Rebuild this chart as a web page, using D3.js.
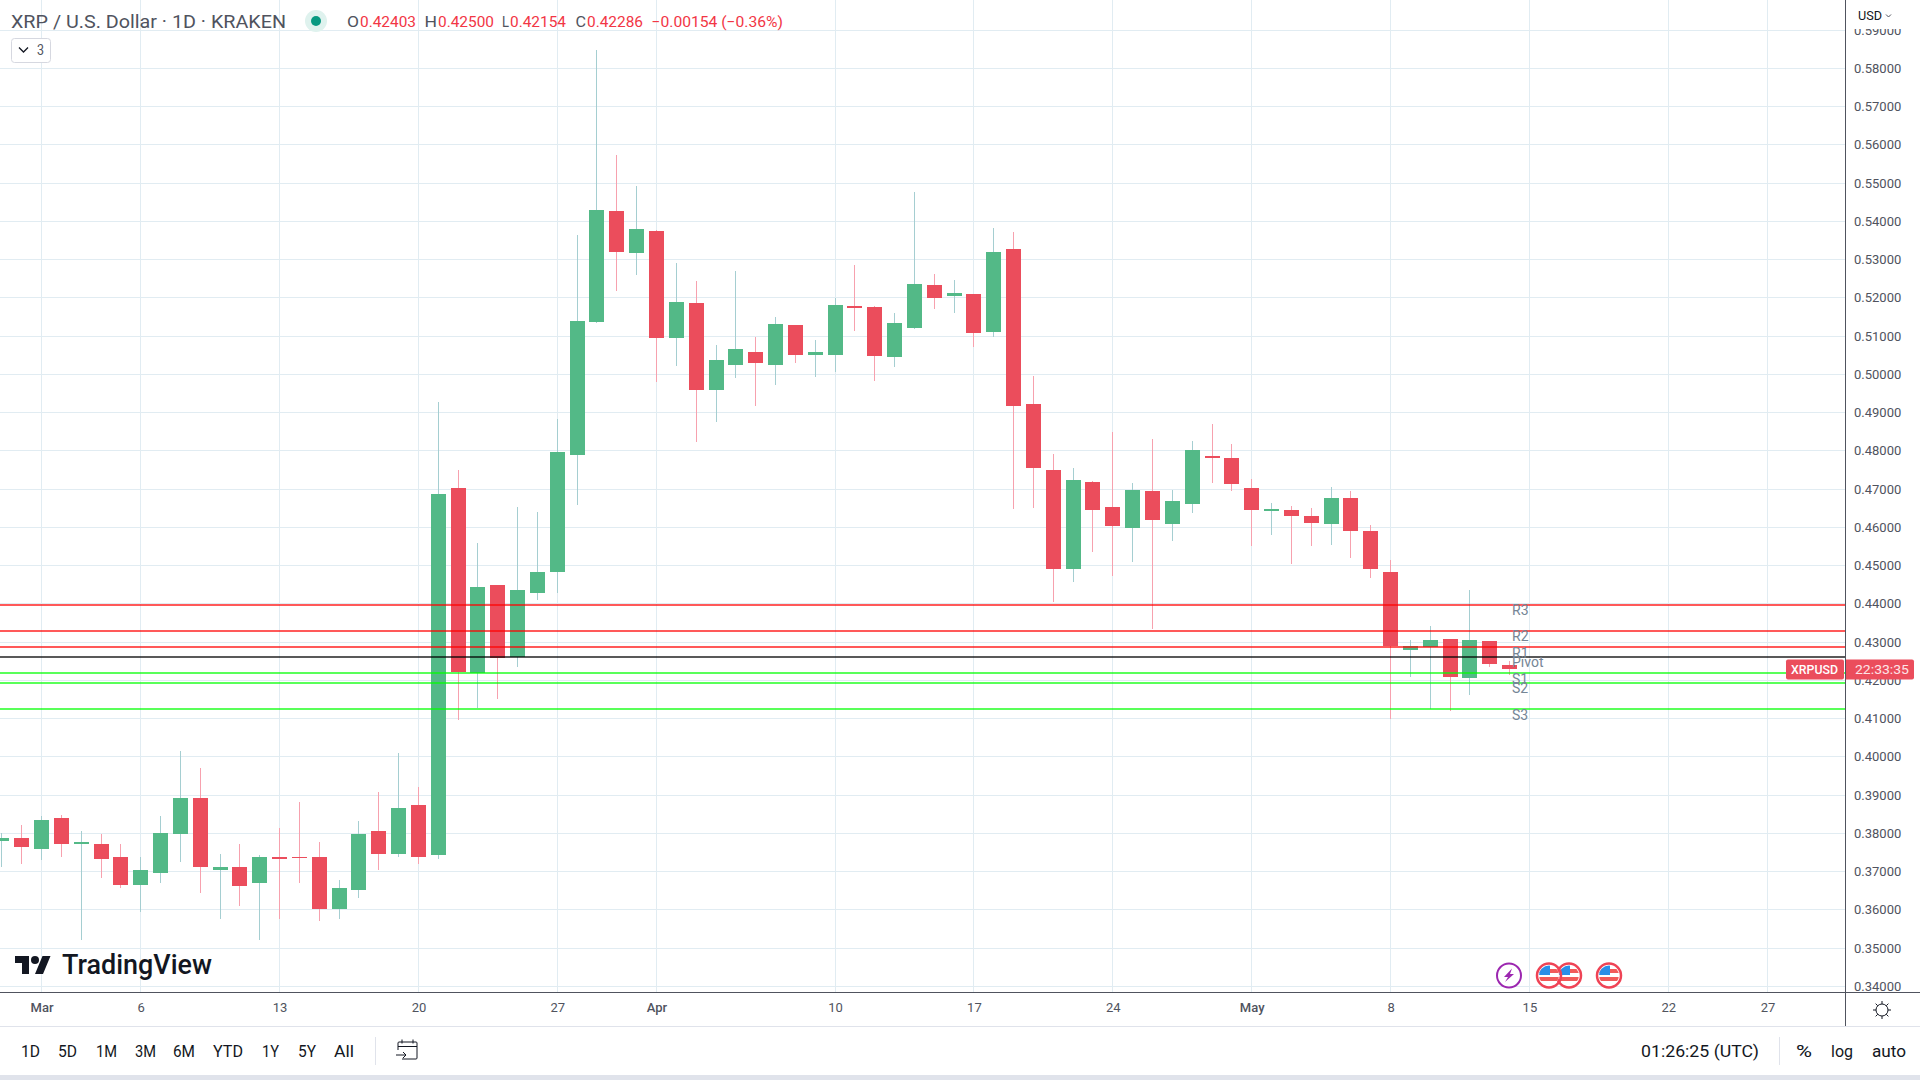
<!DOCTYPE html>
<html>
<head>
<meta charset="utf-8">
<title>XRP / U.S. Dollar</title>
<script src="https://cdn.jsdelivr.net/npm/d3@7/dist/d3.min.js"></script>
<style>
  html, body { margin: 0; padding: 0; background: #fff; overflow: hidden; }
  svg { display: block; font-family: Roboto, sans-serif; }
</style>
</head>
<body>
<div id="chart"></div>
<script>
// daily candles, 27 Feb to 14 May
var opens = [
  .3779,.3789,
  .3760,.3839,.3771,.3773,.3737,.3666,.3695,.3799,.3891,.3705,.3711,.3669,.3739,.3739,.3739,.3601,.3653,.3805,.3745,.3873,
  .3742,.4704,.4219,.4448,.4262,.4429,.4482,.4789,.5137,.5427,.5317,
  .5375,.5095,.5186,.4959,.5024,.5058,.5024,.5129,.5050,.5050,.5178,.5176,.5046,.5122,.5234,.5205,.5211,.5111,.5328,.4923,
  .4749,.4490,.4718,.4652,.4597,.4694,.4608,.4660,.4786,.4781,
  .4702,.4642,.4645,.4629,.4608,.4676,.4590,.4482,.4280,.4287,.4309,.4207,.4303,.4240
];
var highs = [
  .3801,.3823,
  .3844,.3847,.3807,.3799,.3771,.3737,.3844,.4014,.3972,.3747,.3773,.3742,.3815,.3881,.3776,.3679,.3831,.3907,.4011,.3922,
  .4927,.4751,.4558,.4448,.4652,.4639,.4883,.5364,.5848,.5573,.5492,
  .5377,.5291,.5243,.5076,.5270,.5097,.5150,.5129,.5089,.5199,.5286,.5179,.5161,.5477,.5263,.5247,.5211,.5383,.5373,.4996,
  .4791,.4754,.4720,.4849,.4715,.4830,.4697,.4825,.4869,.4817,
  .4726,.4663,.4655,.4650,.4705,.4694,.4605,.4514,.4306,.4343,.4309,.4437,.4303,.4250
];
var lows = [
  .3711,.3721,
  .3731,.3739,.3522,.3684,.3658,.3595,.3671,.3726,.3645,.3575,.3611,.3520,.3575,.3669,.3572,.3577,.3632,.3705,.3739,.3721,
  .3734,.4097,.4128,.4150,.4236,.4411,.4429,.4658,.5135,.5218,.5259,
  .4980,.5021,.4823,.4875,.4990,.4917,.4972,.5029,.4993,.5006,.5113,.4983,.5020,.5119,.5171,.5161,.5072,.5098,.4647,.4650,
  .4404,.4456,.4535,.4472,.4509,.4333,.4563,.4637,.4715,.4694,
  .4550,.4579,.4503,.4550,.4555,.4519,.4467,.4099,.4209,.4126,.4120,.4162,.4235,.4215
];
var closes = [
  .3789,.3765,
  .3836,.3771,.3776,.3734,.3666,.3703,.3802,.3891,.3711,.3713,.3663,.3739,.3734,.3737,.3603,.3658,.3797,.3745,.3867,.3739,
  .4686,.4222,.4445,.4257,.4437,.4484,.4796,.5139,.5429,.5320,.5380,
  .5095,.5189,.4959,.5037,.5066,.5029,.5131,.5050,.5058,.5181,.5173,.5048,.5135,.5237,.5200,.5213,.5109,.5320,.4918,.4754,
  .4490,.4723,.4645,.4603,.4697,.4618,.4668,.4801,.4781,.4713,
  .4645,.4647,.4629,.4611,.4676,.4590,.4490,.4289,.4290,.4306,.4209,.4306,.4243,.4229
];
var startDay = "2023-02-27";

var pivotNames = ["R3", "R2", "R1", "Pivot", "S1", "S2", "S3"];
var pivotValues = [.4398, .4330, .4288, .4262, .4220, .4194, .4126];
var pivotKinds = ["res", "res", "res", "pivot", "sup", "sup", "sup"];

var priceTicks = d3.range(34, 60).map(function(d) { return d / 100; });
var dayTicks = ["2023-03-01","2023-03-06","2023-03-13","2023-03-20","2023-03-27","2023-04-01","2023-04-10","2023-04-17","2023-04-24","2023-05-01","2023-05-08","2023-05-15","2023-05-22","2023-05-27"];
var dayTickLabels = ["Mar","6","13","20","27","Apr","10","17","24","May","8","15","22","27"];

var rangeLabels = ["1D","5D","1M","3M","6M","YTD","1Y","5Y","All"];
var rangeStart = [21,58,96,135,173,213,262,298,334];
var rangeEnd = [40,77,117,156,195,243,279,316,354];

var UP = "#53b987", DOWN = "#eb4d5c", UPWICK = "#a5ced1", DOWNWICK = "#f7a1ae";
var GRID = "#e1ecf2", AXIS = "#50535e", TEXT = "#50535e", DARK = "#131722";
var axisX = 1845, axisY = 992;

var parse = d3.utcParse("%Y-%m-%d");
var first = parse(startDay);
var candles = opens.map(function(o, i) {
  return { date: d3.utcDay.offset(first, i), o: o, h: highs[i], l: lows[i], c: closes[i] };
});

var x = d3.scaleUtc().domain([parse("2023-03-01"), parse("2023-05-27")]).range([41.5, 1767.5]);
var y = d3.scaleLinear().domain([0.34, 0.58]).range([986.3, 68.3]);

var svg = d3.select("#chart").append("svg").attr("width", 1920).attr("height", 1080);
svg.append("rect").attr("width", 1920).attr("height", 1080).attr("fill", "#fff");
svg.append("clipPath").attr("id", "plot").append("rect")
  .attr("width", axisX).attr("height", axisY);

// squeeze or stretch a text into the span it has in the reference
function label(parent, s, x0, x1, yc, size, color, weight) {
  return parent.append("text")
    .attr("x", x0).attr("y", yc).attr("dy", "0.35em")
    .attr("textLength", x1 - x0).attr("lengthAdjust", "spacingAndGlyphs")
    .attr("font-size", size).attr("fill", color).attr("font-weight", weight || 400)
    .text(s);
}

var plot = svg.append("g").attr("clip-path", "url(#plot)");

//grid
plot.selectAll(".hgrid").data(priceTicks).enter().append("rect")
  .attr("x", 0).attr("width", axisX).attr("height", 1)
  .attr("y", function(d) { return Math.round(y(d) - 0.5); })
  .attr("fill", GRID);
plot.selectAll(".vgrid").data(dayTicks).enter().append("rect")
  .attr("y", 0).attr("height", axisY).attr("width", 1)
  .attr("x", function(d) { return Math.round(x(parse(d)) - 0.5); })
  .attr("fill", GRID);

//candles
var cg = plot.selectAll(".candle").data(candles).enter().append("g");
cg.append("rect")
  .attr("x", function(d) { return Math.round(x(d.date) - 0.5); })
  .attr("width", 1)
  .attr("y", function(d) { return Math.round(y(d.h)); })
  .attr("height", function(d) { return Math.max(1, Math.round(y(d.l)) - Math.round(y(d.h))); })
  .attr("fill", function(d) { return d.c >= d.o ? UPWICK : DOWNWICK; });
cg.append("rect")
  .attr("x", function(d) { return Math.round(x(d.date) - 0.5) - 7; })
  .attr("width", 15)
  .attr("y", function(d) { return Math.round(y(Math.max(d.o, d.c))); })
  .attr("height", function(d) { return Math.max(1, Math.round(y(Math.min(d.o, d.c))) - Math.round(y(Math.max(d.o, d.c)))); })
  .attr("fill", function(d) { return d.c >= d.o ? UP : DOWN; });

//pivot lines, see-through over the candles
var lineColor = { res: "rgba(255,0,0,.65)", pivot: "rgba(0,0,0,.65)", sup: "rgba(0,255,0,.65)" };
plot.selectAll(".pivot").data(pivotValues).enter().append("rect")
  .attr("x", 0).attr("width", axisX).attr("height", 2)
  .attr("y", function(d) { return Math.round(y(d)) - 1; })
  .attr("fill", function(d, i) { return lineColor[pivotKinds[i]]; });
plot.selectAll(".pivotLabel").data(pivotValues).enter().append("text")
  .attr("x", 1512)
  .attr("y", function(d) { return y(d) + 6; })
  .attr("dy", "0.35em")
  .attr("font-size", 14).attr("fill", "#758696")
  .text(function(d, i) { return pivotNames[i]; });

//watermark
var wm = svg.append("g");
wm.append("path").attr("transform", "translate(15,952)")
  .attr("d", "M14 22H7V11H0V4h14v18zM28 22h-8l7.5-18h8L28 22z").attr("fill", DARK);
wm.append("circle").attr("cx", 35).attr("cy", 960).attr("r", 4).attr("fill", DARK);
label(wm, "TradingView", 62, 212, 965, 27, DARK, 500);

//event marks
var mk = svg.append("g");
mk.append("circle").attr("cx", 1509).attr("cy", 975.5).attr("r", 12).attr("fill", "#fff")
  .attr("stroke", "#9c27b0").attr("stroke-width", 2);
mk.append("path").attr("transform", "translate(1509,975.5)")
  .attr("d", "M3 -7L-5 1.5L-1 1.5L-4 6.5L5 -1.5L1 -1.5Z").attr("fill", "#9c27b0");
[1569, 1549, 1609].forEach(function(cx, i) {
  var id = "flag" + i;
  mk.append("clipPath").attr("id", id).append("circle").attr("cx", cx).attr("cy", 975.5).attr("r", 10);
  var f = mk.append("g").attr("clip-path", "url(#" + id + ")");
  f.append("rect").attr("x", cx - 12).attr("y", 963).attr("width", 24).attr("height", 26).attr("fill", "#fff");
  f.append("rect").attr("x", cx - 12).attr("y", 969).attr("width", 24).attr("height", 4).attr("fill", "#f25a5a");
  f.append("rect").attr("x", cx - 12).attr("y", 977).attr("width", 24).attr("height", 4).attr("fill", "#f25a5a");
  f.append("rect").attr("x", cx - 12).attr("y", 962).attr("width", 13).attr("height", 13).attr("fill", "#2b8fe8");
  mk.append("circle").attr("cx", cx).attr("cy", 975.5).attr("r", 12).attr("fill", "none")
    .attr("stroke", "#ef4355").attr("stroke-width", 2.5);
});

//price axis
var yAxis = d3.axisRight(y).tickValues(priceTicks).tickFormat(d3.format(".5f")).tickSize(0).tickPadding(9);
var yg = svg.append("g").attr("transform", "translate(" + axisX + ",0)").call(yAxis);
yg.select(".domain").remove();
yg.selectAll("text").attr("font-family", "Roboto, sans-serif").attr("font-size", 13).attr("fill", TEXT);

// the clock tag sits over the 0.42 label
var last = candles[candles.length - 1];
var tagY = Math.round(y(last.c)) + 0.5;
svg.append("rect").attr("x", 1786).attr("y", tagY - 10).attr("width", 58).attr("height", 20).attr("rx", 2).attr("fill", DOWN);
label(svg, "XRPUSD", 1791, 1838, tagY, 13, "#fff", 500);
svg.append("path").attr("d", "M1846 " + (tagY - 10) + "H1912a2 2 0 0 1 2 2V" + (tagY + 8) + "a2 2 0 0 1 -2 2H1846Z").attr("fill", DOWN);
label(svg, "22:33:35", 1855, 1909, tagY, 13, "#fde4e7", 400);

//USD box covers the top of the scale
svg.append("rect").attr("x", axisX + 1).attr("y", 0).attr("width", 74).attr("height", 29).attr("fill", "#fff");
label(svg, "USD", 1858, 1882, 16, 12, DARK);
svg.append("path").attr("d", "M1886 14.5l2.5 2.5l2.5 -2.5").attr("fill", "none").attr("stroke", TEXT).attr("stroke-width", 1);

//time axis
var xAxis = d3.axisBottom(x).tickValues(dayTicks.map(parse))
  .tickFormat(function(d, i) { return dayTickLabels[i]; }).tickSize(0).tickPadding(11);
var xg = svg.append("g").attr("transform", "translate(0," + axisY + ")").call(xAxis);
xg.select(".domain").remove();
xg.selectAll("text").attr("font-family", "Roboto, sans-serif").attr("font-size", 13).attr("fill", TEXT)
  .attr("font-weight", function(d, i) { return /[a-z]/.test(dayTickLabels[i]) ? 500 : 400; });

//axis lines
svg.append("rect").attr("x", 0).attr("y", axisY).attr("width", 1920).attr("height", 1).attr("fill", AXIS);
svg.append("rect").attr("x", axisX).attr("y", 0).attr("width", 1).attr("height", 1026).attr("fill", AXIS);

//gear
var gear = svg.append("g").attr("transform", "translate(1882,1010)").attr("fill", "none").attr("stroke", DARK);
gear.append("circle").attr("r", 6);
d3.range(8).forEach(function(i) {
  var a = i * Math.PI / 4;
  gear.append("line").attr("x1", 6 * Math.cos(a)).attr("y1", 6 * Math.sin(a))
    .attr("x2", 9 * Math.cos(a)).attr("y2", 9 * Math.sin(a));
});

//bottom toolbar
svg.append("rect").attr("x", 0).attr("y", 1026).attr("width", 1920).attr("height", 1).attr("fill", "#e0e3eb");
svg.append("rect").attr("x", 0).attr("y", 1075).attr("width", 1920).attr("height", 5).attr("fill", "#e0e3eb");
rangeLabels.forEach(function(s, i) {
  label(svg, s, rangeStart[i], rangeEnd[i], 1051, 16, DARK);
});
svg.append("rect").attr("x", 375).attr("y", 1037).attr("width", 1).attr("height", 28).attr("fill", "#e0e3eb");
svg.append("path").attr("d", "M398 1050v-7a1 1 0 0 1 1 -1h17a1 1 0 0 1 1 1v15a1 1 0 0 1 -1 1h-14M398 1046.5h19M402 1039.5v4M413 1039.5v4M396 1055h10M403 1052l3 3l-3 3")
  .attr("fill", "none").attr("stroke", DARK).attr("stroke-width", 1);
label(svg, "01:26:25 (UTC)", 1641, 1759, 1051, 17, DARK);
svg.append("rect").attr("x", 1779).attr("y", 1037).attr("width", 1).attr("height", 28).attr("fill", "#e0e3eb");
label(svg, "%", 1796, 1812, 1051, 17, DARK);
label(svg, "log", 1831, 1853, 1051, 16, DARK);
label(svg, "auto", 1872, 1906, 1051, 16, DARK);

//legend
label(svg, "XRP / U.S. Dollar \u00b7 1D \u00b7 KRAKEN", 11, 286, 22, 18, "#50535e");
svg.append("circle").attr("cx", 316).attr("cy", 21).attr("r", 11).attr("fill", "#dff2ee");
svg.append("circle").attr("cx", 316).attr("cy", 21).attr("r", 5).attr("fill", "#089981");
var legendLetters = ["O", "H", "L", "C"];
var legendValues = ["0.42403", "0.42500", "0.42154", "0.42286"];
var letterX = [347, 424.5, 502, 575.5], valueX = [360, 438, 510, 587];
legendLetters.forEach(function(s, i) {
  label(svg, s, letterX[i], valueX[i] - 1, 22, 15, "#50535e");
  label(svg, legendValues[i], valueX[i], valueX[i] + 56, 22, 15, "#f23645");
});
label(svg, "\u22120.00154 (\u22120.36%)", 651.5, 783, 22, 15, "#f23645");

var badge = svg.append("g");
badge.append("rect").attr("x", 11.5).attr("y", 38.5).attr("width", 39).attr("height", 24).attr("rx", 3)
  .attr("fill", "#fff").attr("stroke", "#d6d8e0");
badge.append("path").attr("d", "M19 47.5l4.5 4.5l4.5 -4.5").attr("fill", "none").attr("stroke", DARK).attr("stroke-width", 1.3);
label(badge, "3", 37, 44, 50.5, 14, "#50535e");
</script>
</body>
</html>
